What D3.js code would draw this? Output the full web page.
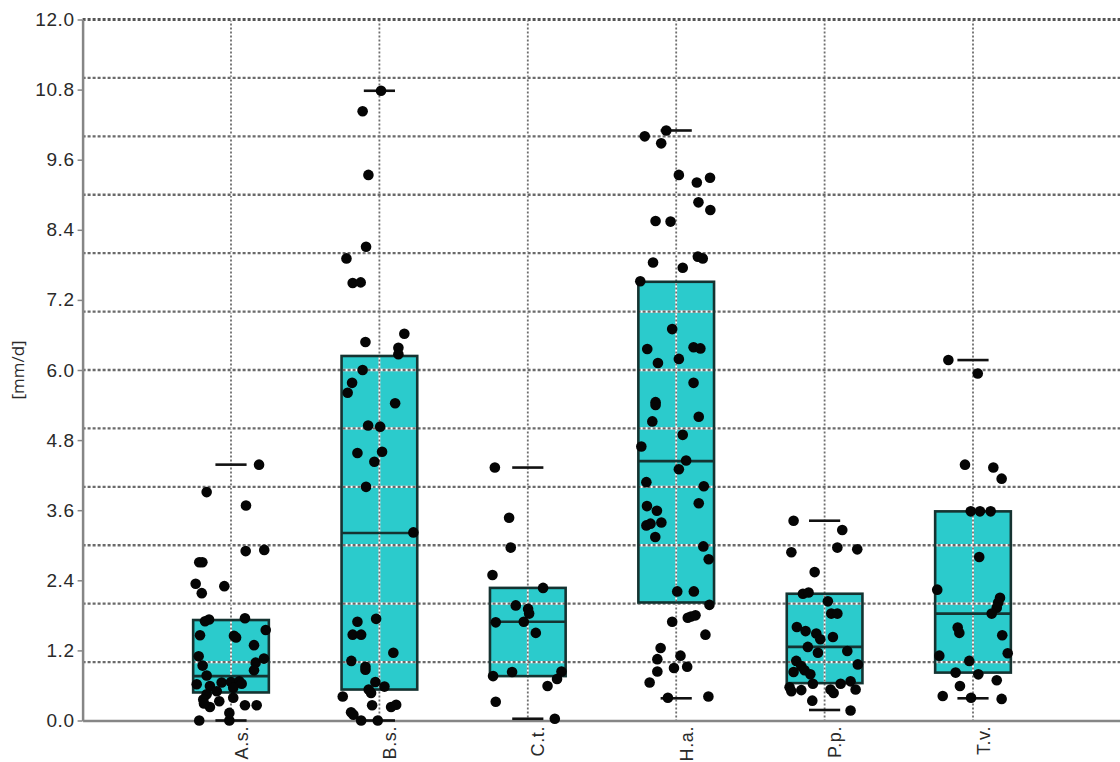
<!DOCTYPE html>
<html>
<head>
<meta charset="utf-8">
<script src="https://cdn.jsdelivr.net/npm/d3@7"></script>
<style>
  html, body { margin: 0; padding: 0; background: #fff; }
  svg { display: block; font-family: 'Open Sans', sans-serif; }
  .axis text { fill: #2a2a2a; font-size: 19px; letter-spacing: 0.6px; }
  .axis-x text { font-size: 18px; }
  .axis .domain { stroke: #868686; stroke-width: 2.5; }
  .axis-y .tick line { stroke: #868686; stroke-width: 1.5; }
  .axis-x .tick line { display: none; }
</style>
</head>
<body>
<svg id="chart" width="1120" height="762"></svg>
<script>
const categories = ['A.s.', 'B.s.', 'C.t.', 'H.a.', 'P.p.', 'T.v.'];
const q1 = [0.48, 0.53, 0.76, 2.02, 0.64, 0.82];
const medians = [0.76, 3.21, 1.69, 4.44, 1.26, 1.83];
const q3 = [1.72, 6.24, 2.27, 7.51, 2.17, 3.58];
const whiskerLow = [0, 0, 0.03, 0.38, 0.18, 0.38];
const whiskerHigh = [4.38, 10.78, 4.33, 10.1, 3.42, 6.17];
const yTicks = [0, 1.2, 2.4, 3.6, 4.8, 6.0, 7.2, 8.4, 9.6, 10.8, 12.0];
const yGrid = [1, 2, 3, 4, 5, 6, 7, 8, 9, 10, 11, 12];

// [jitter (category units), value in mm/d]
const pointsAs = [
  [0.101, 3.68], [0.099, 2.90], [0.224, 2.92], [-0.214, 2.71], [-0.193, 2.71],
  [-0.238, 2.34], [-0.197, 2.18], [-0.045, 2.30], [-0.148, 1.73], [-0.175, 1.70],
  [0.094, 1.75], [-0.209, 1.46], [0.020, 1.45], [0.034, 1.42], [0.234, 1.55],
  [0.155, 1.29], [-0.218, 1.10], [-0.191, 0.94], [0.166, 0.99], [0.222, 1.06],
  [0.155, 0.86], [-0.164, 0.77], [-0.231, 0.62], [-0.142, 0.59], [-0.063, 0.65],
  [0, 0.66], [0.056, 0.67], [0.072, 0.63], [0.015, 0.56], [-0.096, 0.50],
  [-0.164, 0.45], [-0.187, 0.36], [-0.142, 0.23], [-0.079, 0.33], [0.015, 0.39],
  [0.094, 0.26], [0.173, 0.26], [-0.214, 0.0], [-0.011, 0.0], [-0.011, 0.13],
  [-0.182, 0.29], [0.189, 4.38], [-0.164, 3.91]
];
const pointsBs = [
  [0.011, 10.78], [-0.113, 10.43], [-0.074, 9.34], [-0.090, 8.11], [-0.222, 7.91],
  [-0.180, 7.49], [-0.126, 7.50], [0.168, 6.62], [-0.094, 6.48], [0.128, 6.38],
  [0.128, 6.27], [-0.113, 6.00], [-0.184, 5.78], [-0.214, 5.61], [0.106, 5.43],
  [-0.076, 5.05], [0.005, 5.03], [-0.148, 4.58], [0.018, 4.60], [-0.034, 4.43],
  [-0.090, 4.00], [0.229, 3.22], [-0.148, 1.69], [-0.022, 1.74], [-0.180, 1.47],
  [-0.123, 1.47], [0.094, 1.16], [-0.189, 1.02], [-0.094, 0.92], [-0.094, 0.87],
  [-0.027, 0.66], [0.034, 0.58], [-0.072, 0.53], [-0.056, 0.47], [-0.247, 0.41],
  [-0.049, 0.26], [-0.191, 0.14], [-0.175, 0.10], [0.079, 0.23], [0.113, 0.27],
  [-0.123, 0.0], [-0.011, 0.0]
];
const pointsCt = [
  [-0.222, 4.33], [-0.126, 3.47], [-0.115, 2.96], [-0.238, 2.49], [0.103, 2.27],
  [-0.081, 1.97], [0.002, 1.91], [0.009, 1.83], [-0.216, 1.68], [-0.027, 1.69],
  [0.054, 1.50], [-0.234, 0.76], [-0.106, 0.83], [0.227, 0.84], [0.197, 0.71],
  [0.133, 0.59], [-0.216, 0.32], [0.182, 0.03]
];
const pointsHa = [
  [-0.067, 10.10], [-0.212, 10.0], [-0.101, 9.88], [0.018, 9.34], [0.139, 9.21],
  [0.228, 9.29], [0.150, 8.87], [0.230, 8.74], [-0.139, 8.55], [-0.038, 8.54],
  [-0.156, 7.84], [0.044, 7.75], [0.146, 7.94], [0.179, 7.91], [-0.242, 7.52],
  [-0.027, 6.70], [-0.195, 6.36], [0.117, 6.39], [0.163, 6.37], [-0.123, 6.12],
  [0.018, 6.19], [0.117, 5.78], [-0.139, 5.45], [-0.139, 5.40], [-0.161, 5.12],
  [0.152, 5.20], [0.044, 4.89], [-0.235, 4.69], [0.067, 4.45], [0.018, 4.30],
  [-0.201, 4.08], [0.186, 4.01], [0.152, 3.72], [-0.197, 3.67], [-0.130, 3.59],
  [-0.201, 3.34], [-0.173, 3.37], [-0.100, 3.39], [-0.141, 3.14], [0.183, 2.98],
  [0.219, 2.76], [0.007, 2.21], [0.119, 2.21], [0.224, 1.98], [0.078, 1.76],
  [0.100, 1.78], [0.130, 1.80], [-0.027, 1.69], [0.197, 1.47], [-0.105, 1.24],
  [-0.127, 1.05], [0.029, 1.11], [-0.015, 0.90], [0.074, 0.92], [-0.127, 0.84],
  [-0.179, 0.65], [-0.056, 0.39], [0.217, 0.41]
];
const pointsPp = [
  [-0.209, 3.42], [0.119, 3.26], [-0.224, 2.88], [0.086, 2.96], [0.220, 2.93],
  [-0.067, 2.54], [-0.146, 2.17], [-0.108, 2.19], [0.022, 2.04], [0.045, 1.83],
  [0.086, 1.83], [-0.187, 1.60], [-0.128, 1.53], [-0.056, 1.49], [-0.029, 1.39],
  [0.056, 1.43], [-0.113, 1.26], [-0.045, 1.16], [0.153, 1.19], [-0.191, 1.02],
  [-0.157, 0.93], [-0.135, 0.86], [-0.096, 0.79], [-0.209, 0.83], [0.224, 0.96],
  [-0.236, 0.57], [-0.224, 0.50], [-0.157, 0.52], [-0.079, 0.63], [0.040, 0.53],
  [0.061, 0.47], [0.108, 0.63], [0.175, 0.67], [0.209, 0.53], [-0.083, 0.34],
  [0.175, 0.17]
];
const pointsTv = [
  [-0.166, 6.17], [0.032, 5.94], [-0.054, 4.38], [0.137, 4.33], [0.193, 4.14],
  [-0.015, 3.58], [0.047, 3.58], [0.119, 3.58], [0.042, 2.80], [-0.241, 2.24],
  [0.182, 2.10], [0.170, 2.02], [0.160, 1.93], [0.126, 1.83], [-0.103, 1.59],
  [-0.092, 1.50], [0.197, 1.46], [-0.227, 1.11], [0.234, 1.15], [-0.025, 1.02],
  [-0.117, 0.82], [0.036, 0.79], [0.160, 0.69], [-0.088, 0.59], [-0.204, 0.42],
  [-0.013, 0.39], [0.193, 0.37]
];
const pointGroups = [pointsAs, pointsBs, pointsCt, pointsHa, pointsPp, pointsTv];

const boxHalf = 0.255;
const capHalf = 0.105;

function boxChart() {
  const svg = d3.select('#chart');
  const w = +svg.attr('width');

  const x = d3.scaleLinear().domain([0, categories.length + 1]).range([82.6, 1121.4]);
  const y = d3.scaleLinear().domain([0, 12]).range([720.5, 19.5]);

  const boxes = categories.map((name, i) => ({
    name,
    pos: i + 1,
    q1: q1[i],
    median: medians[i],
    q3: q3[i],
    low: whiskerLow[i],
    high: whiskerHigh[i]
  }));

  const points = [];
  pointGroups.forEach((group, i) => {
    group.forEach(([jitter, value]) => points.push({ pos: i + 1 + jitter, value }));
  });

  // box fills under the grid
  svg.append('g')
    .selectAll('rect')
    .data(boxes)
    .join('rect')
    .attr('x', d => x(d.pos - boxHalf))
    .attr('width', d => x(d.pos + boxHalf) - x(d.pos - boxHalf))
    .attr('y', d => y(d.q3))
    .attr('height', d => y(d.q1) - y(d.q3))
    .attr('fill', '#2bcbcc');

  // grid: white underlay + grey dashes so it shows white inside the boxes
  const grid = svg.append('g').attr('class', 'grid');
  const xs = d3.range(1, categories.length + 1);

  grid.selectAll('.v-under')
    .data(xs)
    .join('line')
    .attr('class', 'v-under')
    .attr('x1', d => x(d)).attr('x2', d => x(d))
    .attr('y1', y(12)).attr('y2', y(0))
    .attr('stroke', '#fff').attr('stroke-width', 1.8);
  grid.selectAll('.v-dash')
    .data(xs)
    .join('line')
    .attr('class', 'v-dash')
    .attr('x1', d => x(d)).attr('x2', d => x(d))
    .attr('y1', y(12)).attr('y2', y(0))
    .attr('stroke', '#6e6e6e').attr('stroke-width', 1.8)
    .attr('stroke-dasharray', '2,2');

  grid.selectAll('.h-under')
    .data(yGrid)
    .join('line')
    .attr('class', 'h-under')
    .attr('x1', x(0)).attr('x2', w)
    .attr('y1', d => y(d)).attr('y2', d => y(d))
    .attr('stroke', '#fff').attr('stroke-width', 2.4);
  grid.selectAll('.h-dash')
    .data(yGrid)
    .join('line')
    .attr('class', 'h-dash')
    .attr('x1', x(0)).attr('x2', w)
    .attr('y1', d => y(d)).attr('y2', d => y(d))
    .attr('stroke', d => (d === 12 ? '#555' : '#6a6a6a'))
    .attr('stroke-width', d => (d === 12 ? 3.2 : 2.4))
    .attr('stroke-dasharray', '3,2');

  // box outlines and medians
  const outlines = svg.append('g');
  outlines.selectAll('rect')
    .data(boxes)
    .join('rect')
    .attr('x', d => x(d.pos - boxHalf))
    .attr('width', d => x(d.pos + boxHalf) - x(d.pos - boxHalf))
    .attr('y', d => y(d.q3))
    .attr('height', d => y(d.q1) - y(d.q3))
    .attr('fill', 'none')
    .attr('stroke', '#153331')
    .attr('stroke-width', 2.6);

  outlines.selectAll('.median')
    .data(boxes)
    .join('line')
    .attr('class', 'median')
    .attr('x1', d => x(d.pos - boxHalf))
    .attr('x2', d => x(d.pos + boxHalf))
    .attr('y1', d => y(d.median))
    .attr('y2', d => y(d.median))
    .attr('stroke', '#153331')
    .attr('stroke-width', 2.6);

  // axes
  const axisY = d3.axisLeft(y)
    .tickValues(yTicks)
    .tickFormat(d3.format('.1f'))
    .tickSize(5)
    .tickSizeOuter(0)
    .tickPadding(3);

  svg.append('g')
    .attr('class', 'axis axis-y')
    .attr('transform', `translate(${x(0)},0)`)
    .call(axisY);

  const axisX = d3.axisBottom(x)
    .tickValues(xs)
    .tickFormat(d => categories[d - 1])
    .tickSize(0)
    .tickSizeOuter(0);

  svg.append('g')
    .attr('class', 'axis axis-x')
    .attr('transform', `translate(0,${y(0)})`)
    .call(axisX)
    .selectAll('text')
    .attr('transform', 'rotate(-90)')
    .attr('text-anchor', 'end')
    .attr('x', -5.5)
    .attr('y', 16)
    .attr('dy', 0);

  svg.append('text')
    .attr('transform', `translate(24,${(y(0) + y(12)) / 2}) rotate(-90)`)
    .attr('text-anchor', 'middle')
    .attr('fill', '#2a2a2a')
    .style('font-size', '17px')
    .text('[mm/d]');

  // whisker caps
  const caps = [];
  boxes.forEach(d => {
    caps.push({ pos: d.pos, value: d.low });
    caps.push({ pos: d.pos, value: d.high });
  });
  svg.append('g')
    .selectAll('line')
    .data(caps)
    .join('line')
    .attr('x1', d => x(d.pos - capHalf))
    .attr('x2', d => x(d.pos + capHalf))
    .attr('y1', d => y(d.value))
    .attr('y2', d => y(d.value))
    .attr('stroke', '#111')
    .attr('stroke-width', 2.6);

  // jittered observations
  svg.append('g')
    .selectAll('circle')
    .data(points)
    .join('circle')
    .attr('cx', d => x(d.pos))
    .attr('cy', d => y(d.value))
    .attr('r', 5.3)
    .attr('fill', '#050505');
}

boxChart();
</script>
</body>
</html>
